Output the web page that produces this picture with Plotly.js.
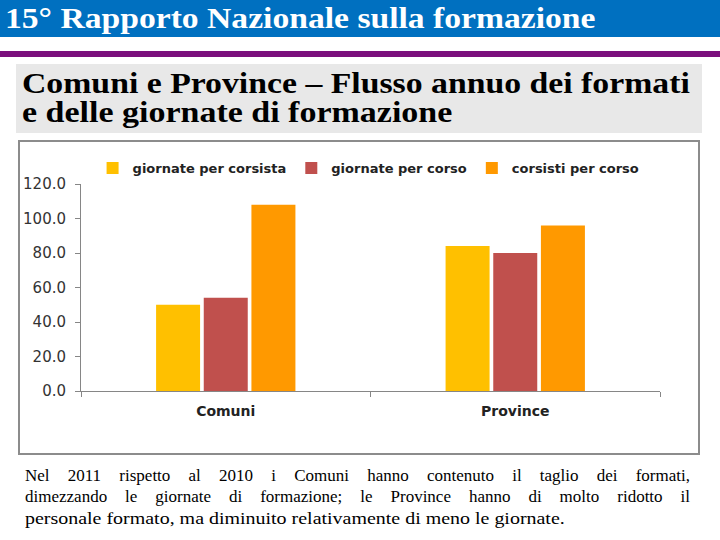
<!DOCTYPE html>
<html><head><meta charset="utf-8">
<script src="https://cdn.plot.ly/plotly-3.0.1.min.js"></script>
<style>
body{margin:0;width:720px;height:540px;position:relative;overflow:hidden;background:#fff;font-family:"Liberation Serif",serif}
#hdr{position:absolute;left:0;top:0;width:720px;height:37px;background:#0070C0}
#hdrt{position:absolute;left:5px;top:0;color:#fff;font-size:29px;line-height:37px;white-space:nowrap;font-weight:bold;transform-origin:0 50%}
#purple{position:absolute;left:0;top:51px;width:720px;height:6px;background:#7B0F7D}
#sub{position:absolute;left:16px;top:64px;width:686px;height:69px;background:#E8E8E8}
.subl{position:absolute;left:6px;font-weight:bold;font-size:29px;line-height:29px;color:#000;white-space:nowrap;transform-origin:0 50%}
#chart{position:absolute;left:18px;top:140px;width:678px;height:311px;border:2px solid #8C8C8C}
.fl{position:absolute;left:25px;font-size:17px;line-height:19px;color:#000;white-space:nowrap}
.just{width:665px;text-align:justify;text-align-last:justify;white-space:normal}
</style></head>
<body>
<div id="hdr"><div id="hdrt">15° Rapporto Nazionale sulla formazione</div></div>
<div id="purple"></div>
<div id="sub">
<div class="subl" id="s1" style="top:5px">Comuni e Province – Flusso annuo dei formati</div>
<div class="subl" id="s2" style="top:34px">e delle giornate di formazione</div>
</div>
<div id="chart"></div>
<div class="fl just" style="top:466px">Nel 2011 rispetto al 2010 i Comuni hanno contenuto il taglio dei formati,</div>
<div class="fl just" style="top:487px">dimezzando le giornate di formazione; le Province hanno di molto ridotto il</div>
<div class="fl" id="f3" style="top:509px;transform-origin:0 50%">personale formato, ma diminuito relativamente di meno le giornate.</div>
<script>
var categories = ["Comuni", "Province"];
var seriesNames = ["giornate per corsista", "giornate per corso", "corsisti per corso"];
var giornatePerCorsista = [50, 84];
var giornatePerCorso = [54, 80];
var corsistiPerCorso = [108, 96];
var colors = ["#FFC000", "#C0504D", "#FF9900"];

function fit(id, w){
  var el = document.getElementById(id);
  var cw = el.scrollWidth;
  el.style.transform = "scaleX(" + (w / cw) + ")";
}
fit("hdrt", 590);
fit("s1", 668);
fit("s2", 430);
fit("f3", 540);

var vals = [giornatePerCorsista, giornatePerCorso, corsistiPerCorso];
var traces = vals.map(function(v, i){
  return {type:"bar", x:categories, y:v, name:seriesNames[i], marker:{color:colors[i]}, hoverinfo:"none"};
});
var layout = {
  width:678, height:311,
  margin:{l:61, r:38, t:41, b:62},
  paper_bgcolor:"#fff", plot_bgcolor:"#fff",
  barmode:"group", bargap:0.506, bargroupgap:0.077,
  showlegend:true,
  legend:{orientation:"h", x:0.02, xanchor:"left", y:1.072, yanchor:"middle",
    font:{family:"DejaVu Sans", size:13, color:"#222", weight:"bold"}, itemclick:false},
  xaxis:{type:"category", showline:true, linecolor:"#868686", linewidth:1, ticks:"outside", tickson:"boundaries",
    ticklen:5, tickcolor:"#868686", showgrid:false, zeroline:false, ticklabelstandoff:7,
    tickfont:{family:"DejaVu Sans", size:14, color:"#222", weight:"bold"}},
  yaxis:{range:[0,120], dtick:20, tickformat:".1f", showline:true, linecolor:"#868686", linewidth:1,
    ticks:"outside", ticklen:5, tickcolor:"#868686", showgrid:false, zeroline:false, ticklabelstandoff:6,
    tickfont:{family:"DejaVu Sans", size:15, color:"#333"}}
};
Plotly.newPlot("chart", traces, layout, {displayModeBar:false, staticPlot:true});
</script>
</body></html>
